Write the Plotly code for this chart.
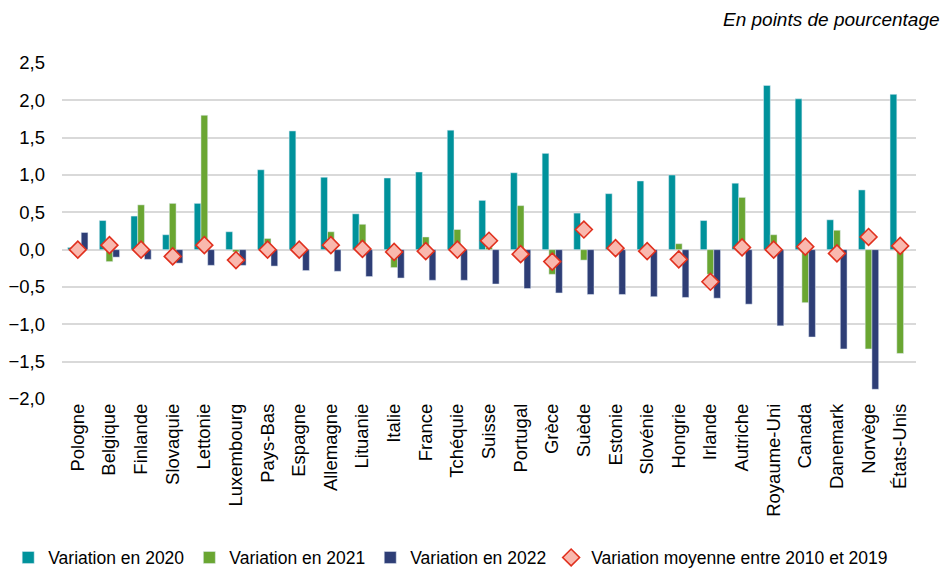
import plotly.graph_objects as go

pays = ["Pologne", "Belgique", "Finlande", "Slovaquie", "Lettonie", "Luxembourg",
        "Pays-Bas", "Espagne", "Allemagne", "Lituanie", "Italie", "France",
        "Tchéquie", "Suisse", "Portugal", "Grèce", "Suède", "Estonie",
        "Slovénie", "Hongrie", "Irlande", "Autriche", "Royaume-Uni", "Canada",
        "Danemark", "Norvège", "États-Unis"]

var_2020 = [0.03, 0.39, 0.45, 0.20, 0.62, 0.24, 1.07, 1.59, 0.97, 0.48, 0.96, 1.04,
            1.60, 0.66, 1.03, 1.29, 0.49, 0.75, 0.92, 1.00, 0.39, 0.89, 2.20, 2.02,
            0.40, 0.80, 2.08]
var_2021 = [0.00, -0.16, 0.60, 0.62, 1.80, -0.03, 0.15, 0.00, 0.24, 0.34, -0.24, 0.17,
            0.27, 0.03, 0.59, -0.33, -0.14, -0.04, 0.00, 0.08, -0.33, 0.70, 0.20, -0.71,
            0.26, -1.33, -1.39]
var_2022 = [0.23, -0.10, -0.13, -0.18, -0.21, -0.21, -0.22, -0.28, -0.29, -0.36, -0.38, -0.41,
            -0.41, -0.46, -0.52, -0.58, -0.60, -0.60, -0.63, -0.64, -0.65, -0.73, -1.02, -1.17,
            -1.33, -1.87, 0.00]
moy_2010_2019 = [0.00, 0.06, 0.00, -0.09, 0.06, -0.14, 0.00, 0.00, 0.06, 0.01, -0.03, -0.02,
                 0.00, 0.12, -0.06, -0.16, 0.27, 0.02, -0.02, -0.13, -0.43, 0.03, 0.00, 0.04,
                 -0.05, 0.17, 0.05]

fig = go.Figure()
fig.add_trace(go.Bar(x=pays, y=var_2020, name="Variation en 2020", marker_color="#00929B"))
fig.add_trace(go.Bar(x=pays, y=var_2021, name="Variation en 2021", marker_color="#6AA632"))
fig.add_trace(go.Bar(x=pays, y=var_2022, name="Variation en 2022", marker_color="#2E3E76"))
fig.add_trace(go.Scatter(x=pays, y=moy_2010_2019, mode="markers",
                         name="Variation moyenne entre 2010 et 2019",
                         marker=dict(symbol="diamond", size=13, color="#F9B8AE",
                                     line=dict(color="#E0301E", width=1.6))))

fig.update_layout(
    width=940, height=563,
    margin=dict(l=54, r=32, t=55, b=172, autoexpand=False),
    plot_bgcolor="white", paper_bgcolor="white",
    barmode="group", bargap=0.36, bargroupgap=0,
    separators=", ",
    font=dict(family="Liberation Sans, Arial, sans-serif", size=18, color="#000000"),
    showlegend=True,
    legend=dict(orientation="h", x=-0.063, xanchor="left", y=-0.472, yanchor="middle",
                font=dict(size=17.5), itemwidth=30, tracegroupgap=0),
    xaxis=dict(tickangle=-90, showgrid=False, showline=False, ticks="",
               range=[-0.5, len(pays) - 0.5],
               tickfont=dict(size=18.5), automargin=False),
    yaxis=dict(range=[-2.0, 2.5], dtick=0.5, tickformat=".1f", showgrid=True,
               gridcolor="#D9D9D9", gridwidth=1.5, zeroline=True, zerolinecolor="#D9D9D9",
               zerolinewidth=1.5, ticks="", ticklabelstandoff=16,
               showline=False, tickfont=dict(size=18.5), automargin=False),
    annotations=[dict(text="<i>En points de pourcentage</i>", xref="paper", yref="paper",
                      x=1.0304, y=1.128, xanchor="right", yanchor="middle",
                      showarrow=False, font=dict(size=19))],
)

fig.write_html("out.html")
